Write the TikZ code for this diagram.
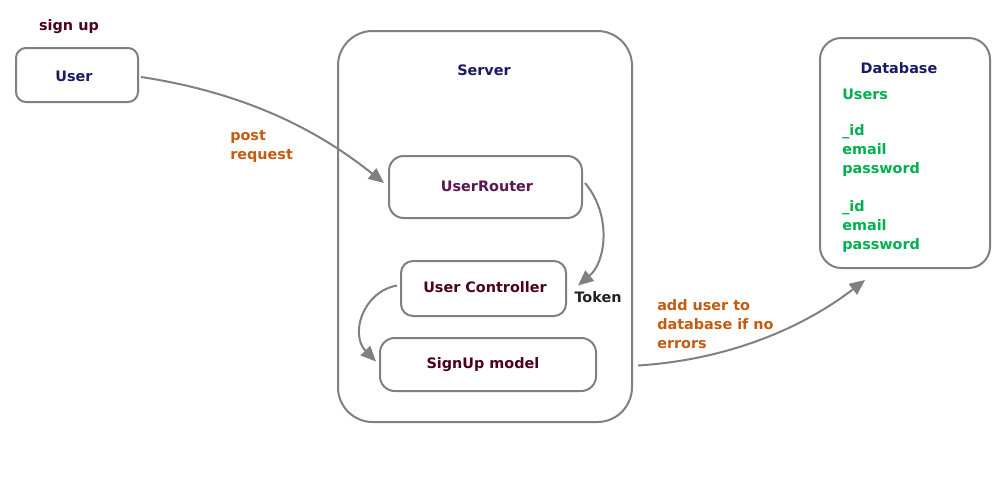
\documentclass[tikz,border=0pt]{standalone}
\usepackage{fontspec}
\setmainfont{DejaVu Sans}
\usetikzlibrary{arrows.meta,calc}
\definecolor{linegray}{HTML}{808080}
\definecolor{navytext}{HTML}{1A1A66}
\definecolor{maroontext}{HTML}{4D0019}
\definecolor{purpletext}{HTML}{5A1650}
\definecolor{greentext}{HTML}{00B050}
\definecolor{orangetext}{HTML}{C55A11}
\definecolor{darktext}{HTML}{222222}
\tikzset{
  box/.style={draw=linegray, line width=1.5pt, fill=white, inner sep=0pt},
  lbl/.style={font=\bfseries\fontsize{10.8}{14.25}\selectfont, inner sep=0pt},
  conn/.style={draw=linegray, line width=1.5pt, -{Triangle[length=11.5pt,width=10pt]}},
}
\begin{document}
\begin{tikzpicture}[x=0.75pt,y=-0.75pt]
\useasboundingbox (0,0) rectangle (1000,500);

% boxes
\node[box, rounded corners=7.5pt, minimum width=91.5pt, minimum height=40.5pt] (User) at (77,75) {};
\node[box, rounded corners=26pt, minimum width=220.5pt, minimum height=293.25pt] (Server) at (485,226.5) {};
\node[box, rounded corners=11pt, minimum width=144.75pt, minimum height=46.5pt] (UserRouter) at (485.5,187) {};
\node[box, rounded corners=9pt, minimum width=123.75pt, minimum height=41.25pt] (UserController) at (483.5,288.5) {};
\node[box, rounded corners=11pt, minimum width=162pt, minimum height=39.75pt] (SignUp) at (488,364.5) {};
\node[box, rounded corners=16pt, minimum width=127.5pt, minimum height=172.5pt] (Database) at (905,153) {};

% texts
\node[lbl, text=maroontext] (signuplbl) at (69,27) {sign up};
\node[lbl, text=navytext] (usertxt) at (74,76) {User};
\node[lbl, text=navytext] (servertxt) at (484,70) {Server};
\node[lbl, text=purpletext] (routertxt) at (487,186) {UserRouter};
\node[lbl, text=maroontext] (controllertxt) at (485,287) {User Controller};
\node[lbl, text=maroontext] (signuptxt) at (483,365) {SignUp model};
\node[lbl, text=navytext] (dbtxt) at (899,68) {Database};
\node[lbl, text=greentext, anchor=west] (userstxt) at (842,94) {Users};
\node[lbl, text=greentext, anchor=west, align=left] (rec1) at (842,151) {\_id\\email\\password};
\node[lbl, text=greentext, anchor=west, align=left] (rec2) at (842,227) {\_id\\email\\password};
\node[lbl, text=orangetext, anchor=west, align=left] (postlbl) at (230,146.5) {post\\request};
\node[lbl, text=darktext] (tokenlbl) at (598,297) {Token};
\node[lbl, text=orangetext, anchor=west, align=left] (addlbl) at (657,324) {add user to\\database if no\\errors};

% connectors
\coordinate (dbend) at ($(Database.south)+(-40,11)$);
\coordinate (dbstart) at ($(Server.east |- SignUp.east)+(5,1)$);
\draw[conn] ($(User.east)+(2,2)$) .. controls (260,95) and (330,140) .. ($(UserRouter.west)+(-4,-4)$);
\draw[conn] ($(UserRouter.east)+(2,-4)$) .. controls (612,215) and (606,262) .. ($(UserController.east)+(11,-3)$);
\draw[conn] ($(UserController.west)+(-3,-3)$) .. controls (362,292) and (350,335) .. ($(SignUp.west)+(-3,-3)$);
\draw[conn] (dbstart) .. controls (725,360) and (800,330) .. (dbend);
\end{tikzpicture}
\end{document}
